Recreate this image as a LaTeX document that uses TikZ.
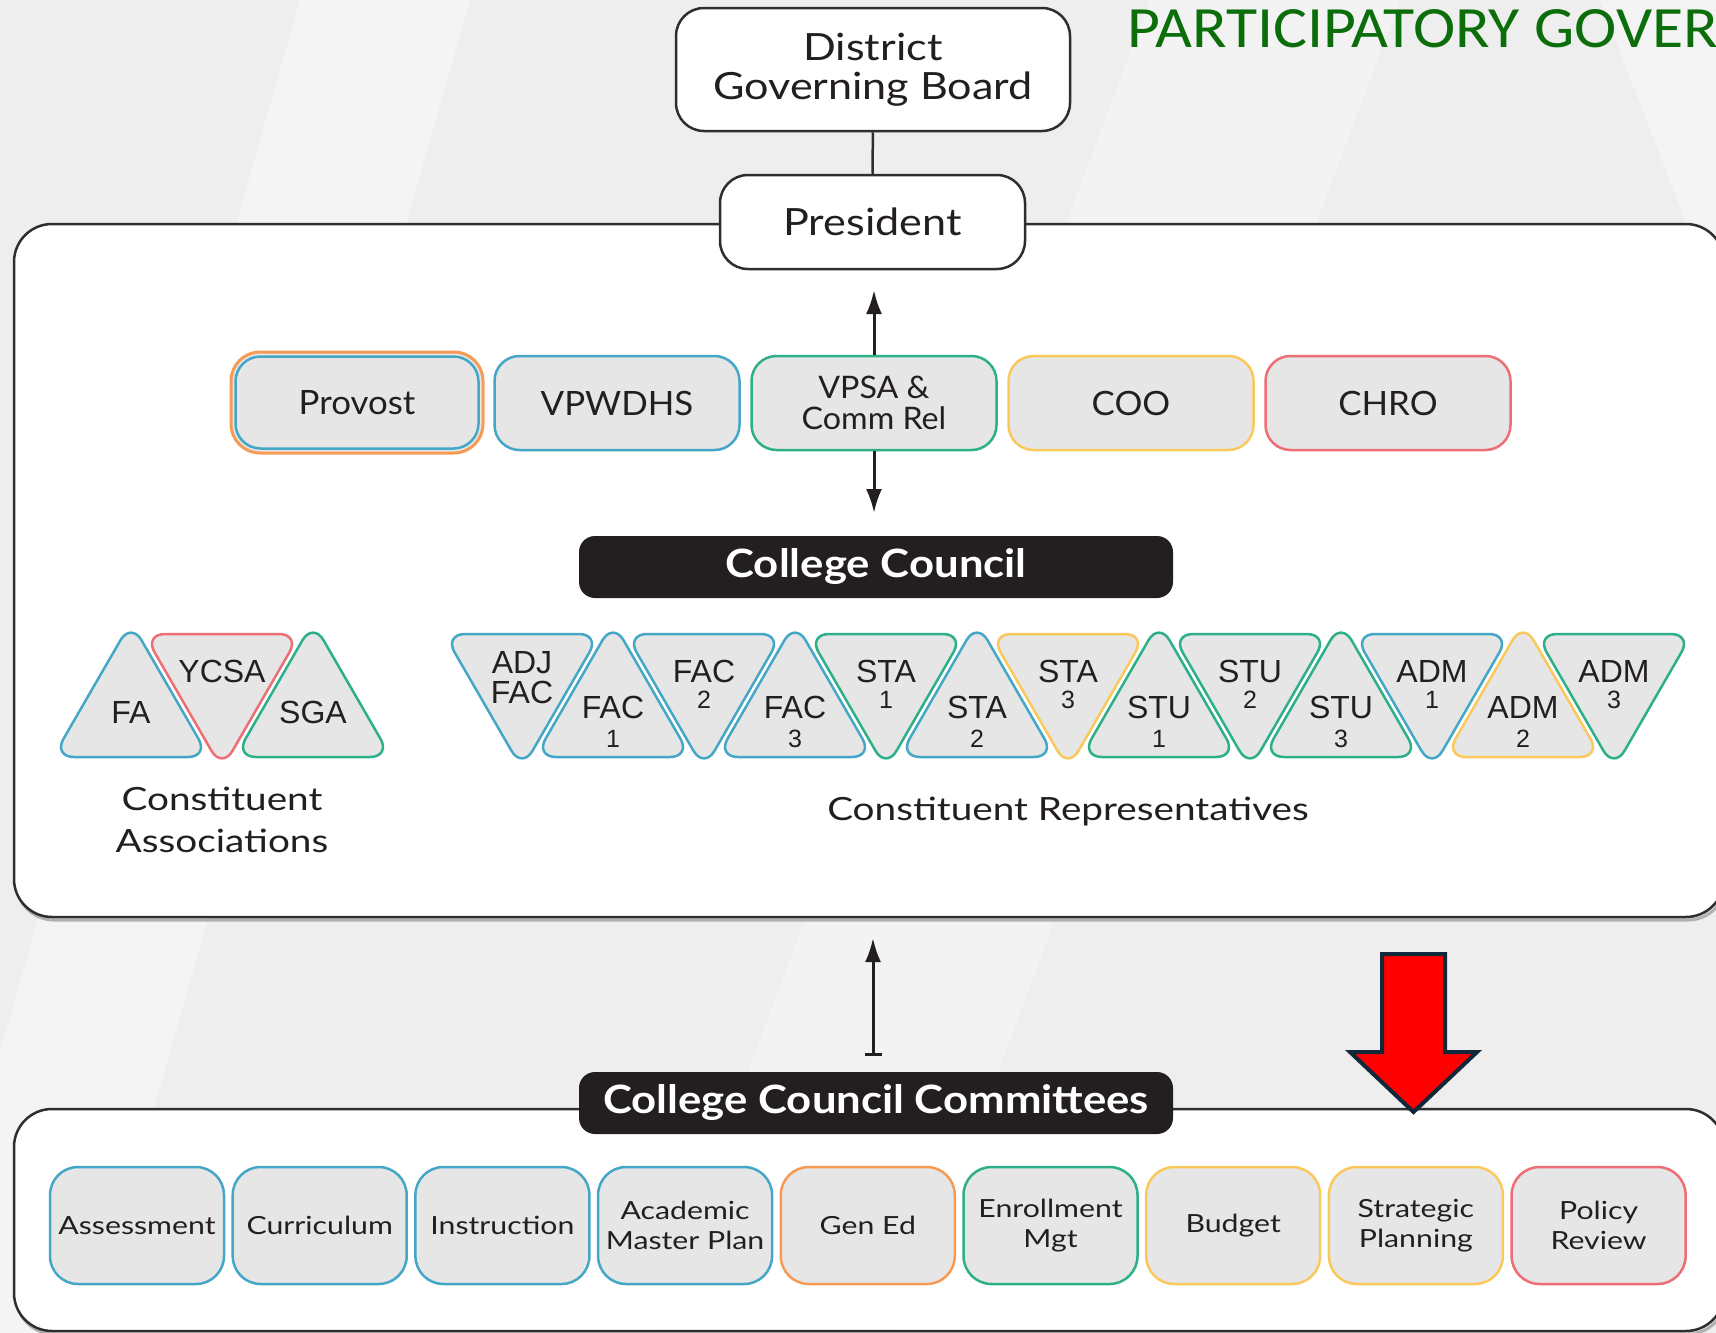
\documentclass[tikz,border=0pt]{standalone}
\usepackage{fontspec}
\setmainfont{Lato}
\newfontfamily\titlefont[FakeStretch=1.09]{Carlito}
\newfontfamily\trifont{Liberation Sans}
\newfontfamily\wideA[FakeStretch=1.21]{Lato}
\newfontfamily\wideB[FakeStretch=1.15]{Lato}
\newfontfamily\wideC[FakeStretch=1.12]{Lato}
\newfontfamily\wideD[FakeStretch=1.04]{Lato}
\usetikzlibrary{arrows.meta}
\definecolor{cblue}{HTML}{45A7C7}
\definecolor{cgreen}{HTML}{2DAF8A}
\definecolor{cyellow}{HTML}{FBC85C}
\definecolor{cred}{HTML}{EE6E76}
\definecolor{corange}{HTML}{F59B55}
\definecolor{boxfill}{HTML}{E6E6E6}
\definecolor{framec}{HTML}{2E2E2E}
\definecolor{txt}{HTML}{231F20}
\definecolor{blk}{HTML}{231F20}
\definecolor{titlegreen}{HTML}{0B6E0B}
\definecolor{arrowred}{HTML}{FF0000}
\definecolor{arrowline}{HTML}{10283A}
\definecolor{bgc}{HTML}{EEEEEE}
\definecolor{shadowc}{HTML}{B0B0B0}
\tikzset{
  bigframe/.style={draw=framec, line width=2.5pt, rounded corners=38pt, fill=white},
  frameshadow/.style={draw=shadowc, line width=3pt, rounded corners=38pt},
  wbox/.style={draw=framec, line width=2.5pt, fill=white, rounded corners=28pt, align=center,
    text=txt, inner sep=0pt, font=\wideB\fontsize{37.5}{39}\selectfont},
  vpbox/.style={fill=boxfill, line width=2.5pt, rounded corners=25pt, minimum width=245pt,
    minimum height=94pt, align=center, inner sep=0pt, text=txt, font=\wideD\fontsize{33.5}{31}\selectfont},
  blackbox/.style={fill=blk, rounded corners=16pt, minimum width=594pt, minimum height=62pt,
    inner sep=0pt, text=white, font=\wideC\bfseries\fontsize{39}{40}\selectfont},
  cmbox/.style={fill=boxfill, line width=2.5pt, rounded corners=28pt, minimum width=174pt,
    minimum height=117pt, align=center, inner sep=0pt, text=txt, font=\wideA\fontsize{25}{29.5}\selectfont},
  tri/.style={fill=boxfill, line width=2.5pt, rounded corners=21pt, line join=round},
  trilab/.style={inner sep=0pt, text=txt, font=\trifont\fontsize{32}{32}\selectfont, anchor=base},
  trinum/.style={inner sep=0pt, text=txt, font=\trifont\fontsize{25}{25}\selectfont, anchor=base},
  grouplab/.style={inner sep=0pt, text=txt, font=\wideA\fontsize{32}{42}\selectfont, anchor=base},
  conn/.style={draw=framec, line width=2.5pt},
  arr/.style={draw=txt, line width=3pt},
}
\begin{document}
\begin{tikzpicture}[x=1pt,y=-1pt]
\path[use as bounding box] (0,0) rectangle (1716,1333);
\clip (0,0) rectangle (1716,1333);
% background
\fill[bgc] (0,0) rectangle (1716,1333);
\fill[white, opacity=0.4] (300,0) -- (470,0) -- (90,1333) -- (-80,1333) -- cycle;
\fill[white, opacity=0.35] (1150,0) -- (1400,0) -- (900,1333) -- (650,1333) -- cycle;
\fill[white, opacity=0.4] (1600,0) -- (1716,0) -- (1716,300) -- cycle;

% frames
\draw[frameshadow] (16,227) rectangle (1726,920);
\draw[bigframe] (14,224) rectangle (1724,917);
\draw[frameshadow] (16,1112) rectangle (1726,1334);
\draw[bigframe] (14,1109) rectangle (1724,1331);

% title
\node[anchor=base west, inner sep=0pt, text=titlegreen, font=\titlefont\fontsize{58.5}{60}\selectfont] (title) at (1127,47) {PARTICIPATORY GOVER};

% top boxes
\node[wbox, minimum width=394pt, minimum height=123pt] (dgb) at (873,69.5) {District\\Governing Board};
\node[wbox, minimum width=305pt, minimum height=94pt] (pres) at (872.5,222) {President};
\draw[conn] (dgb) -- (pres);

% VP boxes
\node[vpbox, draw=corange, line width=3pt, minimum width=252pt, minimum height=101pt, rounded corners=29pt] (provo) at (357,402.5) {};
\node[vpbox, draw=cblue, minimum width=243pt, minimum height=92pt] (prov) at (357,402.5) {Provost};
\node[vpbox, draw=cblue] (vpw) at (617,403) {VPWDHS};
\node[vpbox, draw=cgreen, font=\wideD\fontsize{31}{31}\selectfont] (vpsa) at (874,403) {VPSA \&\\Comm Rel};
\node[vpbox, draw=cyellow] (coo) at (1131,403) {COO};
\node[vpbox, draw=cred] (chro) at (1388,403) {CHRO};

% arrows around VPSA
\coordinate (ptip) at (874,290);
\coordinate (ctip) at (874,513);
\draw[arr, -{Latex[length=24pt,width=16pt]}] (vpsa.north) -- (ptip);
\draw[arr, -{Latex[length=24pt,width=16pt]}] (vpsa.south) -- (ctip);

% College Council
\node[blackbox] (cc) at (876,567) {College Council};

% Constituent associations
\draw[tri, draw=cblue] (53,757) -- (131,622) -- (209,757) -- cycle;
\draw[tri, draw=cred] (144,634) -- (300,634) -- (222,769) -- cycle;
\draw[tri, draw=cgreen] (235,757) -- (313,622) -- (391,757) -- cycle;
\node[trilab] (fa) at (131,723) {FA};
\node[trilab] (ycsa) at (222,682) {YCSA};
\node[trilab] (sga) at (313,723) {SGA};
\node[grouplab] (calab) at (222,810) {Constituent};
\node[grouplab] (calab2) at (222,852) {Associations};

% Constituent representatives
\draw[tri, draw=cblue] (444,634) -- (600,634) -- (522,769) -- cycle;
\node[trilab] (r0-a) at (522,673) {ADJ};
\node[trilab] (r0-b) at (522,703) {FAC};
\foreach \i/\a/\b/\c in {1/FAC/1/cblue, 2/FAC/2/cblue, 3/FAC/3/cblue, 4/STA/1/cgreen,
   5/STA/2/cblue, 6/STA/3/cyellow, 7/STU/1/cgreen, 8/STU/2/cgreen, 9/STU/3/cgreen,
   10/ADM/1/cblue, 11/ADM/2/cyellow, 12/ADM/3/cgreen}{
  \pgfmathsetmacro\cx{522+91*\i}
  \ifodd\i
    \draw[tri, draw=\c] (\cx-78,757) -- (\cx,622) -- (\cx+78,757) -- cycle;
    \node[trilab] (r\i-a) at (\cx,718) {\a};
    \node[trinum] (r\i-b) at (\cx,747) {\b};
  \else
    \draw[tri, draw=\c] (\cx-78,634) -- (\cx+78,634) -- (\cx,769) -- cycle;
    \node[trilab] (r\i-a) at (\cx,682.5) {\a};
    \node[trinum] (r\i-b) at (\cx,708) {\b};
  \fi
}
\node[grouplab] (crlab) at (1068,820) {Constituent Representatives};

% arrow from committees
\coordinate (ccctail) at (873,1056);
\coordinate (cctop) at (873,938);
\draw[arr, {Bar[width=17pt]}-{Latex[length=24pt,width=16pt]}] (ccctail) -- (cctop);

% College Council Committees
\node[blackbox] (ccc) at (876,1103) {College Council Committees};

% committees
\foreach \i/\t/\c in {0/Assessment/cblue, 1/Curriculum/cblue, 2/Instruction/cblue,
   3/{Academic\\Master Plan}/cblue, 4/Gen Ed/corange, 5/{Enrollment\\Mgt}/cgreen,
   6/Budget/cyellow, 7/{Strategic\\Planning}/cyellow, 8/{Policy\\Review}/cred}{
  \pgfmathsetmacro\cx{137+182.7*\i}
  \node[cmbox, draw=\c] (cm\i) at (\cx,1225.5) {\t};
}

% red arrow
\draw[line width=4pt, draw=arrowline, fill=arrowred, line join=miter]
  (1382,954) -- (1445,954) -- (1445,1052) -- (1477,1052) -- (1413.5,1112)
  -- (1350,1052) -- (1382,1052) -- cycle;
\end{tikzpicture}
\end{document}
